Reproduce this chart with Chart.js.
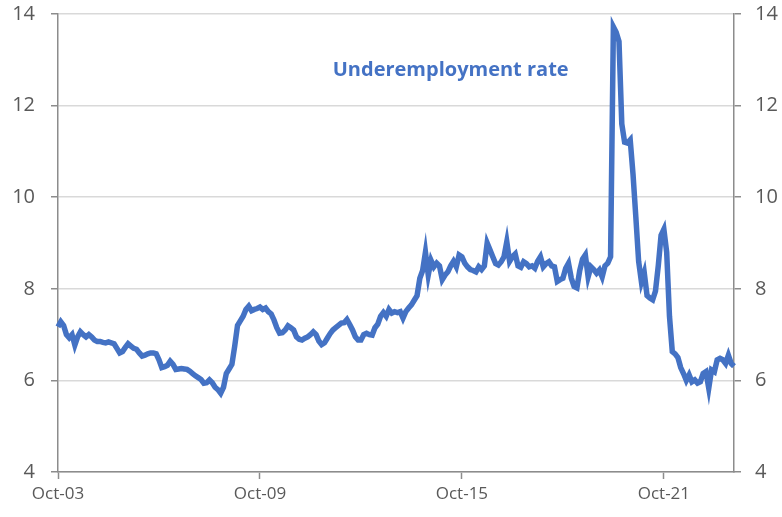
<!DOCTYPE html>
<html>
<head>
<meta charset="utf-8">
<script src="https://cdn.jsdelivr.net/npm/chart.js@4"></script>
<style>
  body { margin: 0; background: #fff; }
  canvas { display: block; }
</style>
</head>
<body>
<canvas id="chart" width="782" height="517"></canvas>
<script>
// monthly underemployment rate, Oct-03 onwards (index = months since Oct-03)
const underemployment = [
  7.17, 7.28, 7.20, 7.00, 6.93, 7.00, 6.77, 6.95, 7.06, 7.00, 6.95, 7.00,
  6.95, 6.88, 6.85, 6.85, 6.83, 6.82, 6.84, 6.82, 6.80, 6.70, 6.60, 6.63,
  6.72, 6.80, 6.75, 6.70, 6.68, 6.60, 6.53, 6.55, 6.58, 6.60, 6.60, 6.58,
  6.45, 6.28, 6.30, 6.33, 6.42, 6.35, 6.24, 6.25, 6.26, 6.25, 6.24, 6.20,
  6.15, 6.10, 6.06, 6.02, 5.94, 5.95, 6.01, 5.95, 5.85, 5.80, 5.72, 5.85,
  6.15, 6.25, 6.35, 6.75, 7.20, 7.30, 7.40, 7.55, 7.62, 7.52, 7.55, 7.57,
  7.60, 7.55, 7.58, 7.50, 7.45, 7.32, 7.15, 7.03, 7.04, 7.10, 7.19, 7.15,
  7.10, 6.95, 6.90, 6.88, 6.92, 6.95, 7.00, 7.06, 7.00, 6.86, 6.78, 6.82,
  6.92, 7.02, 7.10, 7.15, 7.20, 7.25, 7.26, 7.33, 7.22, 7.10, 6.95, 6.88,
  6.88, 7.00, 7.03, 7.00, 6.99, 7.15, 7.23, 7.40, 7.48, 7.40, 7.55, 7.47,
  7.50, 7.48, 7.50, 7.36, 7.50, 7.58, 7.65, 7.75, 7.85, 8.23, 8.40, 8.80,
  8.30, 8.62, 8.48, 8.56, 8.50, 8.20, 8.30, 8.37, 8.50, 8.60, 8.48, 8.74,
  8.70, 8.56, 8.48, 8.42, 8.40, 8.37, 8.48, 8.42, 8.50, 9.00, 8.85, 8.70,
  8.55, 8.52, 8.59, 8.70, 9.03, 8.60, 8.70, 8.76, 8.50, 8.47, 8.59, 8.55,
  8.48, 8.50, 8.45, 8.60, 8.70, 8.48, 8.55, 8.59, 8.50, 8.48, 8.16, 8.20,
  8.23, 8.45, 8.56, 8.23, 8.05, 8.02, 8.40, 8.65, 8.74, 8.26, 8.48, 8.42,
  8.34, 8.41, 8.26, 8.50, 8.56, 8.70, 13.72, 13.60, 13.40, 11.60, 11.20, 11.18,
  11.25, 10.50, 9.57, 8.60, 8.15, 8.35, 7.85, 7.80, 7.76, 7.95, 8.50, 9.17,
  9.30, 8.80, 7.40, 6.63, 6.58, 6.50, 6.28, 6.15, 6.00, 6.12, 5.97, 6.01,
  5.94, 5.97, 6.15, 6.19, 5.83, 6.23, 6.19, 6.45, 6.48, 6.45, 6.37, 6.55,
  6.37, 6.31
];
const xTickLabels = ['Oct-03', 'Oct-09', 'Oct-15', 'Oct-21'];
const yTicks = [4, 6, 8, 10, 12, 14];
const seriesName = 'Underemployment rate';

const blue = '#4472C4';
const textGrey = '#595959';
const axisGrey = '#8c8c8c';
const font = "'Open Sans', 'Liberation Sans', sans-serif";

const points = underemployment.map((v, i) => ({ x: i, y: v }));

const seriesLabel = {
  id: 'seriesLabel',
  afterDatasetsDraw(chart) {
    const { ctx, scales } = chart;
    ctx.save();
    ctx.font = 'bold 20px ' + font;
    ctx.fillStyle = blue;
    ctx.textAlign = 'center';
    ctx.textBaseline = 'middle';
    ctx.fillText(seriesName, scales.x.getPixelForValue(140), scales.y.getPixelForValue(12.78));
    ctx.restore();
  }
};

function yAxis(position, width, padding, grid) {
  return {
    type: 'linear',
    position: position,
    min: yTicks[0],
    max: yTicks[yTicks.length - 1],
    afterFit: s => {
      s.width = width;
      s.paddingTop = 0;
      s.paddingBottom = 0;
    },
    afterBuildTicks: s => { s.ticks = yTicks.map(v => ({ value: v })); },
    ticks: { color: textGrey, font: { family: font, size: 20 }, padding: padding },
    grid: {
      drawOnChartArea: grid,
      color: '#d9d9d9',
      lineWidth: 1.5,
      tickLength: 7,
      tickColor: axisGrey,
      tickWidth: 1.5
    },
    border: { color: axisGrey, width: 1.5 }
  };
}

new Chart(document.getElementById('chart').getContext('2d'), {
  type: 'line',
  data: {
    datasets: [{
      label: seriesName,
      data: points,
      borderColor: blue,
      borderWidth: 5.5,
      pointRadius: 0,
      tension: 0,
      clip: false,
      yAxisID: 'y'
    }]
  },
  options: {
    responsive: false,
    animation: false,
    layout: { padding: { top: 14, left: 0, right: 0, bottom: 0 } },
    plugins: { legend: { display: false }, tooltip: { enabled: false } },
    scales: {
      x: {
        type: 'linear',
        min: 0,
        max: underemployment.length - 1,
        afterFit: s => { s.height = 45; },
        afterBuildTicks: s => { s.ticks = xTickLabels.map((t, i) => ({ value: i * 72 })); },
        ticks: {
          color: textGrey,
          font: { family: font, size: 17 },
          padding: 5,
          maxRotation: 0,
          callback: (v) => xTickLabels[v / 72]
        },
        grid: { drawOnChartArea: false, tickLength: 7, tickColor: axisGrey, tickWidth: 1.5 },
        border: { color: axisGrey, width: 1.5 }
      },
      y: yAxis('left', 58, 16, true),
      y2: yAxis('right', 48, 14, false)
    }
  },
  plugins: [seriesLabel]
});
</script>
</body>
</html>
